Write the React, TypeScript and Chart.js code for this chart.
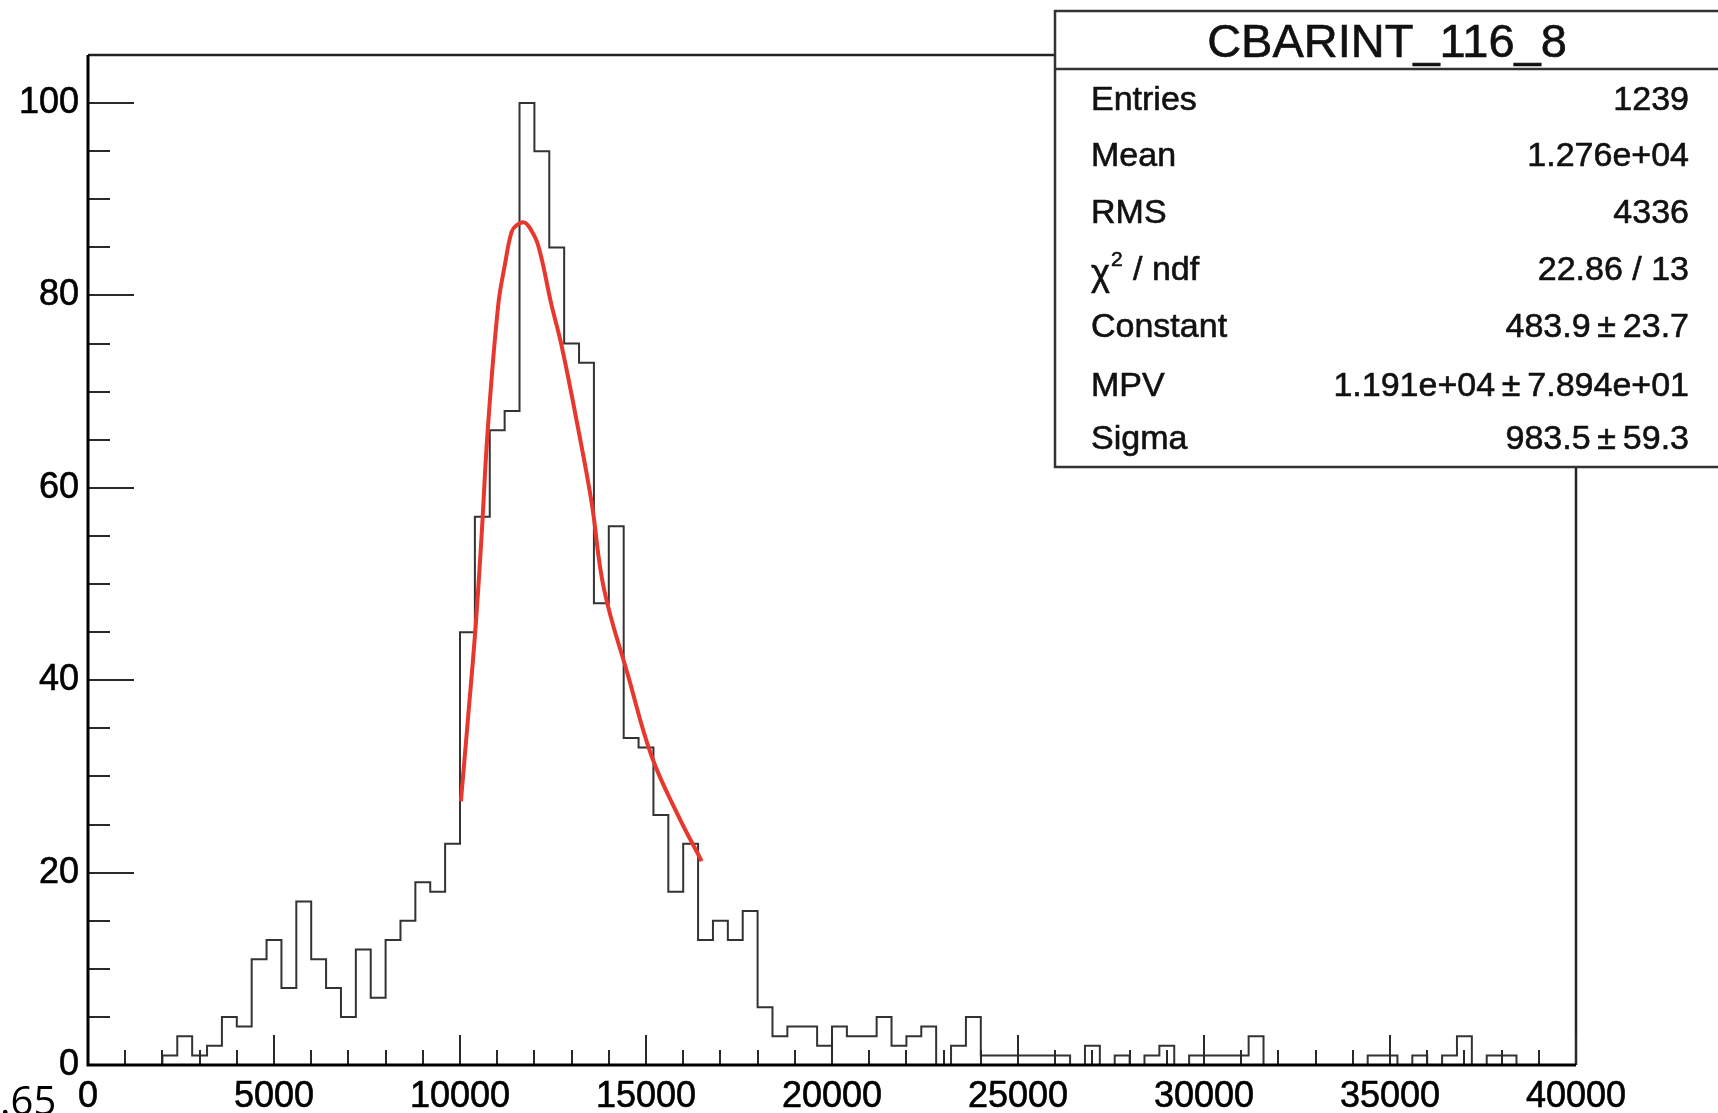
import React, { useEffect, useRef } from "react";
import { Chart, registerables } from "chart.js";

Chart.register(...registerables);

const CANVAS_W = 1718;
const CANVAS_H = 1113;

const X_MIN = 0;
const X_MAX = 40000;
const BIN_WIDTH = 400;
const Y_MIN = 0;
const Y_MAX = 105;

const X_MAJOR_STEP = 5000;
const X_MINOR_STEP = 1000;
const Y_MAJOR_STEP = 20;
const Y_MINOR_STEP = 5;

// entries per 400-wide bin, x = 0 ... 40000 (100 bins)
const binCounts = [
  0, 0, 0, 0, 0, 1, 3, 1, 2, 5,
  4, 11, 13, 8, 17, 11, 8, 5, 12, 7,
  13, 15, 19, 18, 23, 45, 57, 66, 68, 100,
  95, 85, 75, 73, 48, 56, 34, 33, 26, 18,
  23, 13, 15, 13, 16, 6, 3, 4, 4, 2,
  4, 3, 3, 5, 2, 3, 4, 0, 2, 5,
  1, 1, 1, 1, 1, 1, 0, 2, 0, 1,
  0, 1, 2, 0, 1, 1, 1, 1, 3, 0,
  0, 0, 0, 0, 0, 0, 1, 1, 0, 1,
  0, 1, 3, 0, 1, 1, 0, 0, 0, 0,
];

// Landau fit curve
const fitX = [
  10024, 10221, 10418, 10580, 10745, 11027, 11207, 11386, 11521, 11720,
  11880, 12103, 12461, 12730, 13179, 13537, 13870, 14524, 15151, 15869, 16496,
];
const fitY = [
  27.4, 36.3, 45.5, 55.0, 66.0, 79.0, 83.2, 86.6, 87.3, 87.6,
  87.0, 85.2, 79.0, 74.8, 66.1, 58.5, 49.5, 40.4, 32.1, 25.9, 21.2,
];

const statsTitle = "CBARINT_116_8";
const statsLabels = ["Entries", "Mean", "RMS", "CHI2", "Constant", "MPV", "Sigma"];
const statsValues = [
  "1239",
  "1.276e+04",
  "4336",
  "22.86 / 13",
  "483.9\u2009\u00b1\u200923.7",
  "1.191e+04\u2009\u00b1\u20097.894e+01",
  "983.5\u2009\u00b1\u200959.3",
];
const cornerText = ".65";

const FONT = "'Liberation Sans', Arial, Helvetica, sans-serif";

function heavyText(ctx: CanvasRenderingContext2D, s: string, x: number, y: number) {
  ctx.fillText(s, x, y);
  ctx.strokeText(s, x, y);
}

const rootPlugin = {
  id: "rootStyle",
  beforeDraw(chart: any) {
    const ctx = chart.ctx;
    ctx.save();
    ctx.fillStyle = "#ffffff";
    ctx.fillRect(0, 0, chart.width, chart.height);
    ctx.restore();
  },
  afterDraw(chart: any) {
    const { ctx, chartArea: a, scales } = chart;
    const xs = scales.x;
    const ys = scales.y;
    ctx.save();

    // frame top / right
    ctx.strokeStyle = "#222";
    ctx.lineWidth = 2.5;
    ctx.beginPath();
    ctx.moveTo(a.left, a.top);
    ctx.lineTo(a.right, a.top);
    ctx.lineTo(a.right, a.bottom);
    ctx.stroke();

    // ticks
    ctx.strokeStyle = "#2a2a2a";
    ctx.lineWidth = 2;
    ctx.beginPath();
    for (let v = X_MIN; v <= X_MAX; v += X_MINOR_STEP) {
      const px = Math.round(xs.getPixelForValue(v));
      const len = v % X_MAJOR_STEP === 0 ? 30 : 15;
      ctx.moveTo(px, a.bottom);
      ctx.lineTo(px, a.bottom - len);
    }
    for (let v = Y_MIN; v < Y_MAX; v += Y_MINOR_STEP) {
      const py = Math.round(ys.getPixelForValue(v));
      const len = v % Y_MAJOR_STEP === 0 ? 46 : 22;
      ctx.moveTo(a.left, py);
      ctx.lineTo(a.left + len, py);
    }
    ctx.stroke();

    // axis lines
    ctx.strokeStyle = "#000";
    ctx.lineWidth = 3;
    ctx.beginPath();
    ctx.moveTo(a.left, a.top);
    ctx.lineTo(a.left, a.bottom);
    ctx.lineTo(a.right, a.bottom);
    ctx.stroke();

    // stats box
    const bx = 1055, by = 11, bw = 700, bh = 456;
    ctx.fillStyle = "#fff";
    ctx.fillRect(bx, by, bw, bh);
    ctx.strokeStyle = "#333";
    ctx.lineWidth = 2.5;
    ctx.strokeRect(bx, by, bw, bh);
    ctx.beginPath();
    ctx.moveTo(bx, 69);
    ctx.lineTo(CANVAS_W, 69);
    ctx.stroke();

    ctx.fillStyle = "#111";
    ctx.strokeStyle = "#111";
    ctx.lineWidth = 0.6;
    ctx.textBaseline = "alphabetic";
    ctx.font = `47px ${FONT}`;
    ctx.textAlign = "center";
    heavyText(ctx, statsTitle, 1387, 57);

    const baselines = [110, 166, 223, 280, 337, 396, 449];
    const rowFont = `34px ${FONT}`;
    statsLabels.forEach((lab, i) => {
      const y = baselines[i];
      ctx.font = rowFont;
      ctx.textAlign = "left";
      if (lab === "CHI2") {
        let x = 1091;
        ctx.font = `36px ${FONT}`;
        heavyText(ctx, "\u03c7", x, y + 5);
        x += ctx.measureText("\u03c7").width + 1;
        ctx.font = `21px ${FONT}`;
        heavyText(ctx, "2", x, y - 14);
        x += ctx.measureText("2").width + 1;
        ctx.font = rowFont;
        heavyText(ctx, " / ndf", x, y);
      } else {
        heavyText(ctx, lab, 1091, y);
      }
      ctx.font = rowFont;
      ctx.textAlign = "right";
      heavyText(ctx, statsValues[i], 1689, y);
    });

    // stray corner text
    ctx.font = `40px 'Open Sans', ${FONT}`;
    ctx.textAlign = "left";
    ctx.fillStyle = "#000";
    ctx.fillText(cornerText, 0, 1115);

    ctx.restore();
  },
};

export default function App() {
  const canvasRef = useRef<HTMLCanvasElement | null>(null);

  useEffect(() => {
    document.body.style.margin = "0";
    const canvas = canvasRef.current;
    if (!canvas) return;

    const histPoints = binCounts.map((c, i) => ({ x: X_MIN + i * BIN_WIDTH, y: c }));
    histPoints.push({ x: X_MAX, y: binCounts[binCounts.length - 1] });
    const fitPoints = fitX.map((x, i) => ({ x, y: fitY[i] }));

    const tickFont = { family: FONT, size: 36 };

    const chart = new Chart(canvas, {
      type: "line",
      data: {
        datasets: [
          {
            label: "fit",
            data: fitPoints,
            borderColor: "#e8372c",
            borderWidth: 4,
            pointRadius: 0,
            tension: 0.4,
            fill: false,
          },
          {
            label: "hist",
            data: histPoints,
            borderColor: "#333",
            borderWidth: 2,
            pointRadius: 0,
            stepped: "before",
            fill: false,
          },
        ],
      },
      options: {
        responsive: false,
        animation: false,
        devicePixelRatio: 1,
        layout: { padding: { top: 55, right: 142, left: 0, bottom: 0 } },
        plugins: {
          legend: { display: false },
          tooltip: { enabled: false },
        },
        scales: {
          x: {
            type: "linear",
            min: X_MIN,
            max: X_MAX,
            afterFit: (s: any) => {
              s.height = 48;
            },
            grid: { display: false, drawTicks: false },
            border: { display: false },
            ticks: {
              stepSize: X_MAJOR_STEP,
              autoSkip: false,
              maxRotation: 0,
              includeBounds: false,
              padding: 10,
              color: "#000",
              textStrokeColor: "#000",
              textStrokeWidth: 0.6,
              font: tickFont,
              callback: (v: any) => String(v),
            },
          },
          y: {
            type: "linear",
            min: Y_MIN,
            max: Y_MAX,
            afterFit: (s: any) => {
              s.width = 88;
            },
            grid: { display: false, drawTicks: false },
            border: { display: false },
            ticks: {
              stepSize: Y_MAJOR_STEP,
              includeBounds: false,
              padding: 9,
              color: "#000",
              textStrokeColor: "#000",
              textStrokeWidth: 0.6,
              font: tickFont,
              callback: (v: any) => String(v),
            },
          },
        },
      },
      plugins: [rootPlugin],
    } as any);

    return () => {
      chart.destroy();
    };
  }, []);

  return (
    <div style={{ position: "absolute", left: 0, top: 0, width: CANVAS_W, height: CANVAS_H }}>
      <canvas
        ref={canvasRef}
        width={CANVAS_W}
        height={CANVAS_H}
        style={{ width: CANVAS_W, height: CANVAS_H, display: "block" }}
      />
    </div>
  );
}
